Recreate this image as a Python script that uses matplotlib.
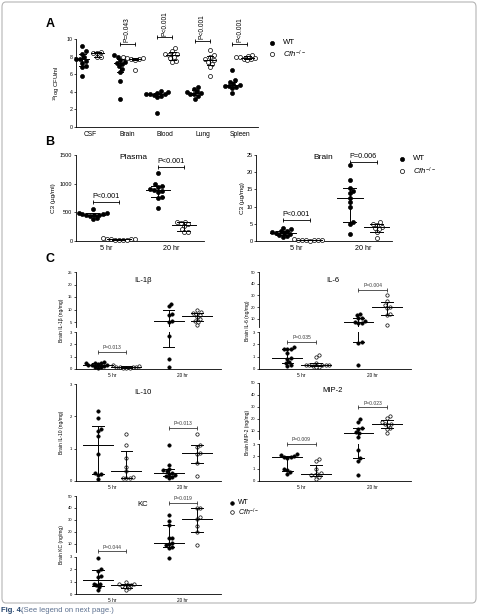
import numpy as np
import matplotlib
matplotlib.use('Agg')
import matplotlib.pyplot as plt
from matplotlib.lines import Line2D
from matplotlib.patches import FancyBboxPatch

plt.rcParams['font.family'] = ['Liberation Sans', 'DejaVu Sans']
plt.rcParams['mathtext.fontset'] = 'custom'
plt.rcParams['mathtext.rm'] = 'Liberation Sans'
plt.rcParams['mathtext.it'] = 'Liberation Sans:italic'

# ---- data ----
# A: bacterial load, 10log CFU/ml
organs = ['CSF', 'Brain', 'Blood', 'Lung', 'Spleen']
cfu_wt = [
    [9.25, 8.6, 8.35, 7.9, 7.75, 7.7, 7.5, 7.3, 6.95, 6.8, 5.85],
    [8.15, 8.0, 7.8, 7.6, 7.4, 7.3, 7.2, 6.9, 6.6, 6.2, 5.25, 3.2],
    [4.05, 3.95, 3.9, 3.8, 3.75, 3.7, 3.6, 3.5, 3.4, 1.6],
    [4.5, 4.3, 4.05, 3.95, 3.85, 3.8, 3.7, 3.5, 3.2],
    [6.5, 5.3, 5.1, 4.9, 4.8, 4.7, 4.65, 4.55, 4.45, 3.85],
]
cfu_cfh = [
    [8.5, 8.45, 8.4, 8.0, 7.9],
    [7.95, 7.85, 7.8, 7.75, 7.7, 7.6, 6.5],
    [8.95, 8.6, 8.35, 8.25, 8.2, 8.0, 7.8, 7.5, 7.4],
    [8.7, 8.2, 8.0, 7.7, 7.6, 7.4, 7.2, 6.8, 5.85],
    [8.15, 8.05, 7.95, 7.9, 7.85, 7.75, 7.7, 7.6],
]
cfu_p = {1: 'P=0.043', 2: 'P<0.001', 3: 'P<0.001', 4: 'P<0.001'}
cfu_p_y = {1: 9.43, 2: 10.2, 3: 9.77, 4: 9.43}

times = ['5 hr', '20 hr']

# B: C3
plasma_wt = [[560, 490, 480, 470, 465, 460, 455, 450, 430, 400, 380],
             [1180, 990, 960, 940, 900, 890, 870, 860, 770, 750, 580]]
plasma_cfh = [[45, 38, 35, 30, 28, 25, 22, 20, 18],
              [340, 330, 320, 290, 270, 210, 160, 150]]
brain_c3_wt = [[3.8, 3.4, 3.0, 2.8, 2.6, 2.4, 2.3, 2.1, 1.6, 1.4, 1.2],
               [22.0, 17.8, 15.5, 14.5, 14.0, 12.5, 11.3, 10.0, 5.5, 5.0, 2.0]]
brain_c3_cfh = [[0.45, 0.35, 0.3, 0.25, 0.2, 0.2, 0.15, 0.1],
                [5.5, 5.0, 4.7, 4.2, 3.8, 3.5, 2.5, 1.0]]

# C: cytokines (ng/mg)
il1b_wt = [[0.55, 0.5, 0.5, 0.45, 0.4, 0.35, 0.3, 0.3, 0.25, 0.2, 0.15, 0.1],
           [12.4, 11.5, 8.2, 8.0, 5.4, 5.2, 2.7, 0.8, 0.15]]
il1b_cfh = [[0.3, 0.25, 0.2, 0.2, 0.15, 0.15, 0.1, 0.1, 0.1],
            [9.8, 9.0, 8.6, 8.3, 7.8, 7.0, 6.3, 5.5, 5.2, 4.0]]
il6_wt = [[1.75, 1.65, 1.6, 1.6, 1.3, 0.9, 0.85, 0.55, 0.5, 0.3, 0.25],
          [14.5, 13.0, 11.0, 10.5, 8.0, 7.0, 6.5, 6.0, 2.2, 2.1, 0.35]]
il6_cfh = [[1.1, 0.95, 0.5, 0.35, 0.35, 0.3, 0.3, 0.3, 0.25, 0.2, 0.15],
           [30, 25, 22, 20, 19.5, 14, 13.5, 4.5]]
il10_wt = [[2.15, 1.95, 1.6, 1.55, 1.38, 0.82, 0.25, 0.22, 0.2, 0.05],
           [1.12, 0.5, 0.37, 0.33, 0.3, 0.26, 0.22, 0.18, 0.15, 0.12, 0.1]]
il10_cfh = [[1.45, 1.12, 0.72, 0.42, 0.3, 0.12, 0.1, 0.1, 0.1],
            [1.45, 1.1, 1.05, 0.88, 0.82, 0.55, 0.15]]
mip2_wt = [[2.15, 2.1, 2.0, 1.95, 1.95, 1.9, 0.95, 0.88, 0.75, 0.6],
           [19.8, 17.5, 12.2, 11.5, 8.5, 7.7, 5.0, 2.5, 1.85, 1.6, 0.5]]
mip2_cfh = [[1.75, 1.65, 1.0, 0.62, 0.6, 0.5, 0.45, 0.3, 0.2],
            [22, 21, 17, 16, 15.5, 14.5, 12, 11.8, 8]]
kc_wt = [[2.95, 2.0, 1.9, 1.5, 1.35, 0.85, 0.8, 0.7, 0.55, 0.3],
         [34, 29, 26, 15, 14.5, 10.5, 10, 8.5, 7, 6.5, 2.9]]
kc_cfh = [[1.0, 0.85, 0.8, 0.75, 0.7, 0.65, 0.6, 0.45, 0.35],
          [40, 40, 32, 31, 25, 20, 9]]

# ---- figure helpers (pixel layout, y measured from top) ----
W, H = 478, 615
fig = plt.figure(figsize=(W / 100, H / 100), dpi=100)


def fx(x):
    return x / W


def fy(y):
    return 1 - y / H


def add_ax(x0, y0, x1, y1, fs, xlim, ylim, bottom=True):
    ax = fig.add_axes([x0 / W, 1 - y1 / H, (x1 - x0) / W, (y1 - y0) / H])
    ax.patch.set_alpha(0)
    ax.spines['top'].set_visible(False)
    ax.spines['right'].set_visible(False)
    ax.spines['left'].set_linewidth(0.6)
    ax.spines['bottom'].set_linewidth(0.6)
    ax.spines['bottom'].set_visible(bottom)
    ax.tick_params(axis='y', direction='out', length=1.8, width=0.5, labelsize=fs, pad=0.8)
    ax.tick_params(axis='x', length=0, labelsize=fs, pad=3)
    ax.set_xlim(*xlim)
    ax.set_ylim(*ylim)
    if not bottom:
        ax.set_xticks([])
    return ax


def pick(axes, split, v):
    if len(axes) > 1 and v > split:
        return axes[1]
    return axes[0]


def swarm(axes, split, xc, values, diam):
    # simple beeswarm in display space
    order = np.argsort(values)
    placed = []
    xs = np.zeros(len(values))
    for i in order:
        v = values[i]
        ax = pick(axes, split, v)
        x0, y0 = ax.transData.transform((xc, v))
        cands = [x0]
        for px_, py_ in placed:
            dy = py_ - y0
            if abs(dy) < diam:
                dx = np.sqrt(diam ** 2 - dy ** 2)
                cands += [px_ + dx, px_ - dx]
        cands.sort(key=lambda c: abs(c - x0))
        best = x0
        for c in cands:
            if all((c - px_) ** 2 + (y0 - py_) ** 2 >= diam ** 2 - 1e-6 for px_, py_ in placed):
                best = c
                break
        placed.append((best, y0))
        xs[i] = ax.transData.inverted().transform((best, y0))[0]
    return xs


def group(axes, xc, values, filled, ms, half, cap, split=3.0, lw=0.7):
    values = np.asarray(values, float)
    diam = ms * 100 / 72
    xs = swarm(axes, split, xc, values, diam)
    for ax in axes:
        sel = [k for k, v in enumerate(values) if pick(axes, split, v) is ax]
        ax.plot(xs[sel], values[sel], 'o', ms=ms, mfc='k' if filled else 'white',
                mec='k', mew=0.5, zorder=3, clip_on=False)
    # median with interquartile range
    med, q1, q3 = np.percentile(values, [50, 25, 75], method='weibull')
    for ax in axes:
        ax.plot([xc - half, xc + half], [med, med], color='k', lw=lw, zorder=4)
        ax.plot([xc, xc], [q1, q3], color='k', lw=lw, zorder=4)
        ax.plot([xc - cap, xc + cap], [q1, q1], color='k', lw=lw, zorder=4)
        ax.plot([xc - cap, xc + cap], [q3, q3], color='k', lw=lw, zorder=4)


def bracket(ax, x1, x2, y, text, fs, color='k', rot=False, ms=3.0):
    ax.plot([x1, x2], [y, y], color=color, lw=0.6, marker='|', ms=ms, mew=0.6, clip_on=False)
    ax.annotate(text, ((x1 + x2) / 2, y), xytext=(0, 1.2), textcoords='offset points',
                ha='center', va='bottom', fontsize=fs, color=color,
                rotation=90 if rot else 0, annotation_clip=False)


def legend(x, y1, y2, tx, fs, ms):
    fig.add_artist(Line2D([fx(x)], [fy(y1)], marker='o', ms=ms, mfc='k', mec='k',
                          mew=0.5, transform=fig.transFigure))
    fig.add_artist(Line2D([fx(x)], [fy(y2)], marker='o', ms=ms, mfc='white', mec='k',
                          mew=0.5, transform=fig.transFigure))
    fig.text(fx(tx), fy(y1), 'WT', fontsize=fs, va='center', ha='left')
    fig.text(fx(tx), fy(y2), r'$\mathit{Cfh}^{-/-}$', fontsize=fs, va='center', ha='left')


# ---- frame and caption ----
fig.add_artist(FancyBboxPatch((fx(2), fy(603)), fx(474), 601 / H,
                              boxstyle='round,pad=0,rounding_size=0.008',
                              transform=fig.transFigure, fill=False,
                              ec='#b5b5b5', lw=0.8))
fig.text(fx(1), fy(610), 'Fig. 4.', fontsize=5.5, fontweight='bold', color='#26466f', va='center')
fig.text(fx(21), fy(610), '(See legend on next page.)', fontsize=5.5, color='#5d7190', va='center')

# ---- panel A ----
fig.text(fx(50), fy(24), 'A', fontsize=9, fontweight='bold', ha='center', va='center')
axA = add_ax(76, 39, 258, 127, 3.8, (-0.37, 4.48), (0, 10))
axA.set_yticks(range(0, 11, 2))
axA.set_xticks(range(len(organs)))
axA.set_xticklabels(organs, fontsize=4.8)
fig.text(fx(57), fy(83), r'$^{10}$log CFU/ml', fontsize=4.2, rotation=90, ha='center', va='center')
for i in range(len(organs)):
    group([axA], i - 0.2, cfu_wt[i], True, 2.9, 0.17, 0.09, split=99)
    group([axA], i + 0.2, cfu_cfh[i], False, 2.9, 0.17, 0.09, split=99)
for i, t in cfu_p.items():
    bracket(axA, i - 0.2, i + 0.2, cfu_p_y[i], t, 4.8, rot=True, ms=3.5)
legend(272, 43, 54, 283, 5.6, 3.0)

# ---- panel B ----
fig.text(fx(50), fy(142), 'B', fontsize=9, fontweight='bold', ha='center', va='center')
axP = add_ax(76, 155, 204, 241, 4.0, (-0.46, 1.51), (0, 1500))
axP.set_yticks([0, 500, 1000, 1500])
axB = add_ax(256, 155, 392, 241, 4.0, (-0.6, 1.43), (0, 25))
axB.set_yticks(range(0, 26, 5))
for ax, wt, cf in [(axP, plasma_wt, plasma_cfh), (axB, brain_c3_wt, brain_c3_cfh)]:
    ax.set_xticks([0, 1])
    ax.set_xticklabels(times, fontsize=5.2)
    for i in range(2):
        group([ax], i - 0.2, wt[i], True, 2.9, 0.19, 0.1, split=1e9)
        group([ax], i + 0.2, cf[i], False, 2.9, 0.19, 0.1, split=1e9)
bracket(axP, -0.2, 0.2, 680, 'P<0.001', 5.2)
bracket(axP, 0.8, 1.2, 1290, 'P<0.001', 5.2)
bracket(axB, -0.2, 0.2, 6.1, 'P<0.001', 5.2)
bracket(axB, 0.8, 1.2, 23.0, 'P=0.006', 5.2)
fig.text(fx(133), fy(157), 'Plasma', fontsize=6, ha='center', va='center')
fig.text(fx(323), fy(157), 'Brain', fontsize=6, ha='center', va='center')
fig.text(fx(53), fy(198), 'C3 (\u00b5g/ml)', fontsize=4.6, rotation=90, ha='center', va='center')
fig.text(fx(242), fy(198), 'C3 (\u00b5g/mg)', fontsize=4.6, rotation=90, ha='center', va='center')
legend(402, 159, 171, 413, 5.6, 3.0)

# ---- panel C ----
fig.text(fx(50), fy(259), 'C', fontsize=9, fontweight='bold', ha='center', va='center')
LEFT = (76, 221, (-0.51, 1.54), 62, 143)
RIGHT = (259, 411, (-0.6, 1.54), 247, 333)
pc = '#3a3a3a'


def cyto(col, top, bottom, ymax, uticks, title, label, wt, cf, pvals, gap=5):
    x0, x1, xlim, lx, tx = col
    if ymax is None:
        low = add_ax(x0, top, x1, bottom, 3.0, xlim, (0, 3))
        axes = [low]
    else:
        # broken axis: 0-3 below, 3-ymax above
        lo_top = bottom - 37
        up = add_ax(x0, top, x1, lo_top - gap, 3.0, xlim, (3, ymax), bottom=False)
        up.set_yticks(uticks)
        low = add_ax(x0, lo_top, x1, bottom, 3.0, xlim, (0, 3))
        axes = [low, up]
    low.set_yticks([0, 1, 2, 3])
    low.set_xticks([0, 1])
    low.set_xticklabels(times, fontsize=3.4)
    for i in range(2):
        group(axes, i - 0.2, wt[i], True, 2.4, 0.21, 0.08)
        group(axes, i + 0.2, cf[i], False, 2.4, 0.21, 0.08)
    for i, y, t in pvals:
        ax = pick(axes, 3.0, y) if y > 3.6 else axes[0]
        bracket(ax, i - 0.2, i + 0.2, y, t, 3.6, color=pc, ms=2.5)
    fig.text(fx(tx), fy(top + 8), title, fontsize=5.5, ha='center', va='center')
    fig.text(fx(lx), fy((top + bottom) / 2), label, fontsize=3.6, rotation=90,
             ha='center', va='center')


cyto(LEFT, 272, 369, 25, [5, 10, 15, 20, 25], 'IL-1\u03b2', 'Brain IL-1\u03b2 (ng/mg)',
     il1b_wt, il1b_cfh, [(0, 1.4, 'P=0.013')])
cyto(RIGHT, 272, 369, 50, [10, 20, 30, 40, 50], 'IL-6', 'Brain IL-6 (ng/mg)',
     il6_wt, il6_cfh, [(0, 2.2, 'P=0.035'), (1, 34.6, 'P=0.004')])
cyto(LEFT, 384, 481, None, None, 'IL-10', 'Brain IL-10 (ng/mg)',
     il10_wt, il10_cfh, [(1, 1.64, 'P=0.013')])
cyto(RIGHT, 383, 481, 50, [10, 20, 30, 40, 50], 'MIP-2', 'Brain MIP-2 (ng/mg)',
     mip2_wt, mip2_cfh, [(0, 3.0, 'P=0.009'), (1, 29.7, 'P=0.023')])
cyto(LEFT, 496, 594, 50, [10, 20, 30, 40, 50], 'KC', 'Brain KC (ng/mg)',
     kc_wt, kc_cfh, [(0, 3.47, 'P=0.044'), (1, 44.3, 'P=0.019')])
legend(232, 503, 512, 238, 5.0, 2.6)

fig.savefig('out.png', dpi=100)
